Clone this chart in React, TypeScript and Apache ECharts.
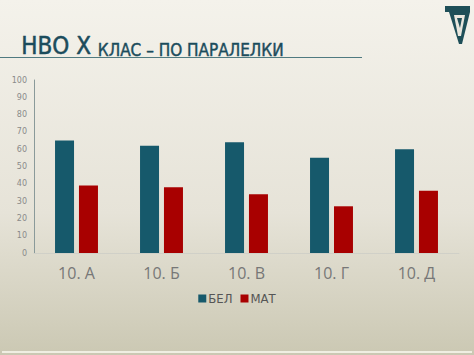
import React, { useEffect, useRef } from "react";
import * as echarts from "echarts";

const categories = ["10. А", "10. Б", "10. В", "10. Г", "10. Д"];
const belValues = [65, 62, 64, 55, 60];
const matValues = [39, 38, 34, 27, 36];
const seriesNames = ["БЕЛ", "МАТ"];

export default function App() {
  const ref = useRef<HTMLDivElement>(null);
  useEffect(() => {
    if (!ref.current) return;
    const chart = echarts.init(ref.current, null, { renderer: "svg" });
    const titleFont = "'Liberation Sans Narrow', 'DejaVu Sans Condensed', sans-serif";
    chart.setOption({
      animation: false,
      backgroundColor: {
        type: "linear", x: 0, y: 0, x2: 0, y2: 1,
        colorStops: [
          { offset: 0, color: "#f4f2eb" },
          { offset: 0.6, color: "#e6e3d8" },
          { offset: 1, color: "#cbc8b3" },
        ],
      },
      grid: { left: 34, right: 15, top: 80, bottom: 102, containLabel: false },
      legend: {
        data: seriesNames,
        top: 287,
        left: "center",
        itemWidth: 8,
        itemHeight: 8,
        itemGap: 8,
        icon: "rect",
        textStyle: { color: "#555", fontSize: 13, fontFamily: titleFont, padding: [0, 0, 0, -3] },
      },
      xAxis: {
        type: "category",
        data: categories,
        axisLine: { show: true, lineStyle: { color: "#d0d0c8", width: 1 } },
        axisTick: { show: false },
        axisLabel: { color: "#777777", fontSize: 16, margin: 12, fontFamily: "'Open Sans', sans-serif" },
      },
      yAxis: {
        type: "value",
        min: 0,
        max: 100,
        interval: 10,
        axisLine: { show: true, lineStyle: { color: "#8a9a9a", width: 1 } },
        axisTick: { show: false },
        splitLine: { show: false },
        axisLabel: { color: "#8a8a8a", fontSize: 8, margin: 7, fontFamily: "'DejaVu Sans', sans-serif" },
      },
      series: [
        {
          name: seriesNames[0],
          type: "bar",
          data: belValues,
          barWidth: 19,
          barGap: "26%",
          itemStyle: { color: "#16596b" },
        },
        {
          name: seriesNames[1],
          type: "bar",
          data: matValues,
          barWidth: 19,
          itemStyle: { color: "#a80000" },
        },
      ],
      graphic: [
        {
          type: "line",
          shape: { x1: 0, y1: 57.5, x2: 362, y2: 57.5 },
          style: { stroke: "#4f7a80", lineWidth: 1 },
        },
        {
          type: "line",
          shape: { x1: 2, y1: 352, x2: 472, y2: 352 },
          style: { stroke: "#f0eee2", lineWidth: 2 },
        },
        {
          type: "text",
          left: 21,
          top: 34,
          style: {
            text: "{a|НВО Х }{b|КЛАС – ПО ПАРАЛЕЛКИ}",
            rich: {
              a: { fontSize: 24, fontFamily: titleFont, fill: "#1b4c5c", verticalAlign: "bottom", lineHeight: 27, stroke: "#1b4c5c", lineWidth: 0.5 },
              b: { fontSize: 17, fontFamily: titleFont, fill: "#1b4c5c", verticalAlign: "bottom", lineHeight: 27, stroke: "#1b4c5c", lineWidth: 0.4 },
            },
          },
        },
        {
          type: "group",
          left: 445,
          top: 6,
          children: [
            {
              type: "polygon",
              shape: { points: [[0, 0], [25, 0], [25, 6], [17, 38], [14, 38], [4, 6], [0, 6]] },
              style: { fill: "#1e4f58" },
            },
            {
              type: "polygon",
              shape: { points: [[9, 9], [20, 9], [16, 30], [13, 30]] },
              style: { fill: "#e9e7de" },
            },
            {
              type: "polygon",
              shape: { points: [[12, 12], [17, 12], [15, 22]] },
              style: { fill: "#1e4f58" },
            },
          ],
        },
      ],
    });
    return () => chart.dispose();
  }, []);
  return (
    <div
      ref={ref}
      style={{ position: "fixed", left: 0, top: 0, width: 474, height: 355 }}
    />
  );
}
